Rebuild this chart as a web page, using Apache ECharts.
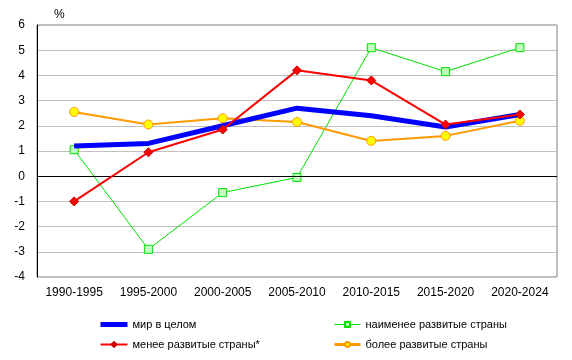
<!DOCTYPE html>
<html><head><meta charset="utf-8">
<script src="https://cdn.jsdelivr.net/npm/echarts@6/dist/echarts.min.js"></script>
<style>html,body{margin:0;padding:0;background:#fff}#c{width:572px;height:360px}</style>
</head><body><div id="c"></div>
<script>
const categories = ['1990-1995','1995-2000','2000-2005','2005-2010','2010-2015','2015-2020','2020-2024'];
const world = [1.2, 1.3, 2.0, 2.7, 2.4, 1.95, 2.45];
const lessDeveloped = [-1.0, 0.95, 1.85, 4.2, 3.8, 2.05, 2.45];
const leastDeveloped = [1.05, -2.9, -0.65, -0.05, 5.1, 4.15, 5.1];
const moreDeveloped = [2.55, 2.05, 2.3, 2.15, 1.4, 1.6, 2.2];
const yTicks = {min: -4, max: 6, interval: 1};
const names = ['мир в целом','менее развитые страны*','наименее развитые страны','более развитые страны'];

const font = 'Liberation Sans, Arial, sans-serif';
const chart = echarts.init(document.getElementById('c'), null, {renderer:'canvas'});
const legendText = {fontFamily:font,fontSize:11,color:'#000'};
chart.setOption({
  animation:false,
  backgroundColor:'#fff',
  grid:{left:37,right:15,top:25,bottom:83,show:true,borderColor:'#808080',borderWidth:1},
  graphic:[{type:'text',left:54,top:9,style:{text:'%',font:'12px '+font,fill:'#000'}}],
  xAxis:{type:'category',data:categories,boundaryGap:true,
    axisLine:{show:false},axisTick:{show:false},
    axisLabel:{color:'#000',fontFamily:font,fontSize:12,margin:10,interval:0}},
  yAxis:{type:'value',min:yTicks.min,max:yTicks.max,interval:yTicks.interval,
    axisLine:{show:true,lineStyle:{color:'#000',width:1}},axisTick:{show:false},
    axisLabel:{color:'#000',fontFamily:font,fontSize:12,margin:12},
    splitLine:{lineStyle:{color:'#c0c0c0',width:1}}},
  legend:[
    {data:[{name:names[0],lineStyle:{width:5},itemStyle:{opacity:0}},
           {name:names[1],lineStyle:{width:2}}],
     orient:'vertical',left:98,top:319,padding:0,itemWidth:27,itemHeight:6,itemGap:9,textStyle:legendText},
    {data:[{name:names[2],lineStyle:{width:1}},{name:names[3],lineStyle:{width:3}}],
     orient:'vertical',left:333,top:319,padding:0,itemWidth:26,itemHeight:6,itemGap:9,textStyle:legendText}
  ],
  series:[
    {name:names[2],type:'line',data:leastDeveloped,symbol:'rect',symbolSize:8,
     lineStyle:{color:'#00e000',width:1},itemStyle:{color:'#c0ffc0',borderColor:'#00e000',borderWidth:1},z:2,
     markLine:{silent:true,symbol:'none',label:{show:false},lineStyle:{color:'#000',width:1,type:'solid'},data:[{yAxis:0}]}},
    {name:names[3],type:'line',data:moreDeveloped,symbol:'circle',symbolSize:9,
     lineStyle:{color:'#ff9900',width:2},itemStyle:{color:'#ffff00',borderColor:'#ff9900',borderWidth:1},z:3},
    {name:names[0],type:'line',data:world,symbol:'none',
     lineStyle:{color:'#0000ff',width:5},itemStyle:{color:'#0000ff'},z:4},
    {name:names[1],type:'line',data:lessDeveloped,symbol:'diamond',symbolSize:9,
     lineStyle:{color:'#ff0000',width:2},itemStyle:{color:'#ff0000',borderColor:'#c00000',borderWidth:1},z:5}
  ]
});
</script></body></html>
